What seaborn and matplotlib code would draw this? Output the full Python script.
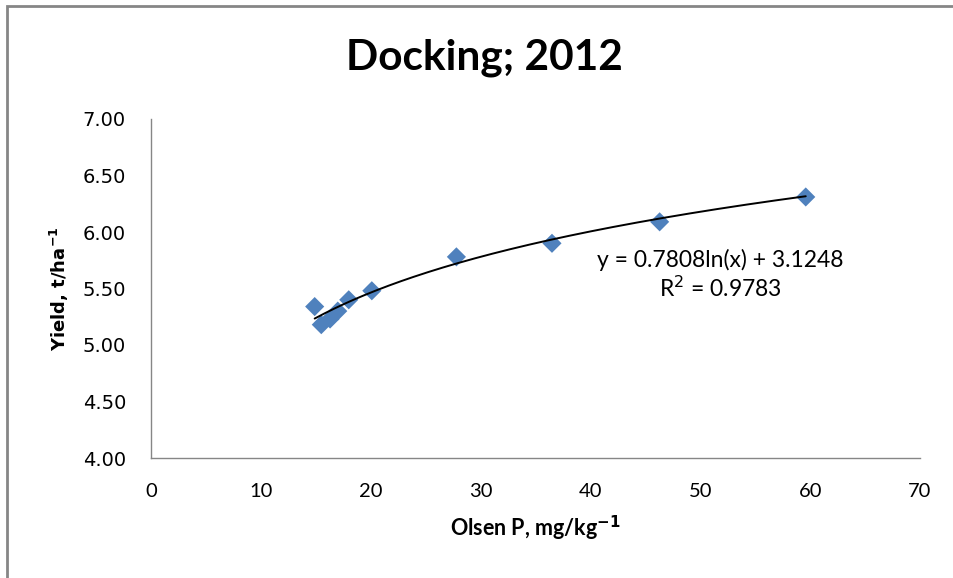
import numpy as np
import pandas as pd
import matplotlib
matplotlib.use("Agg")
import matplotlib.pyplot as plt
from matplotlib.patches import Rectangle
import seaborn as sns

# Olsen P (mg/kg) and grain yield (t/ha) at Docking, 2012
olsen_p = [14.9, 15.5, 16.3, 17.0, 18.0, 20.1, 27.8, 36.5, 46.3, 59.6]
yield_t = [5.34, 5.18, 5.23, 5.30, 5.40, 5.48, 5.78, 5.90, 6.09, 6.31]

# Logarithmic trendline coefficients
slope = 0.7808
intercept = 3.1248
r_squared = 0.9783

x_ticks = [0, 10, 20, 30, 40, 50, 60, 70]
y_ticks = [4.0, 4.5, 5.0, 5.5, 6.0, 6.5, 7.0]

sns.set_theme(style="white")
plt.rcParams["font.family"] = ["DejaVu Sans"]
plt.rcParams["mathtext.fontset"] = "dejavusans"
plt.rcParams["text.color"] = "black"
plt.rcParams["axes.labelcolor"] = "black"

df = pd.DataFrame({"olsen_p": olsen_p, "yield": yield_t})
trend_x = np.linspace(min(olsen_p), max(olsen_p), 200)
trend = pd.DataFrame({"x": trend_x, "y": slope * np.log(trend_x) + intercept})

fig = plt.figure(figsize=(9.54, 5.78), dpi=100)
ax = fig.add_axes([151 / 954, 1 - 458 / 578, (920 - 151) / 954, (458 - 119) / 578])

sns.scatterplot(data=df, x="olsen_p", y="yield", marker="D", s=95,
                color="#4F81BD", edgecolor="none", ax=ax, zorder=2)
sns.lineplot(data=trend, x="x", y="y", color="black", linewidth=1.4,
             ax=ax, zorder=3)

ax.set_xlim(0, 70)
ax.set_ylim(4.0, 7.0)
ax.set_xticks(x_ticks)
ax.set_yticks(y_ticks)
ax.set_xticklabels([str(t) for t in x_ticks], fontfamily="Lato", fontsize=14.5)
ax.set_yticklabels([f"{t:.2f}" for t in y_ticks], fontsize=14)

for side in ("top", "right"):
    ax.spines[side].set_visible(False)
for side in ("left", "bottom"):
    ax.spines[side].set_color("#868686")
    ax.spines[side].set_linewidth(1.0)
ax.tick_params(axis="both", which="major", direction="out", length=6,
               width=1.0, color="#868686", labelcolor="black")
ax.tick_params(axis="y", pad=12)
ax.tick_params(axis="x", pad=12)

ax.set_xlabel("Olsen P, mg/kg$^{\\mathbf{-1}}$", fontfamily="Lato",
              fontweight="bold", fontsize=15.5, labelpad=10)
ax.set_ylabel(r"Yield, t/ha$^{\mathbf{-1}}$", fontweight="bold", fontsize=13,
              labelpad=8)

fig.text(484 / 954, 1 - 58 / 578, "Docking; 2012", fontfamily="Lato",
         fontweight="bold", fontsize=30.5, ha="center", va="center")

ax.text(0.74, 0.585, f"y = {slope}ln(x) + {intercept}", transform=ax.transAxes,
        fontfamily="Lato", fontsize=16.5, ha="center", va="center")
ax.text(0.74, 0.502, f"R$^2$ = {r_squared}", transform=ax.transAxes,
        fontfamily="Lato", fontsize=16.5, ha="center", va="center")

# chart area border
fig.patches.append(Rectangle((7 / 954, -0.05), 1.2, 1 - 6 / 578 + 0.05,
                             transform=fig.transFigure, fill=False,
                             edgecolor="#868686", linewidth=2.0))

fig.savefig("out.png", dpi=100)
